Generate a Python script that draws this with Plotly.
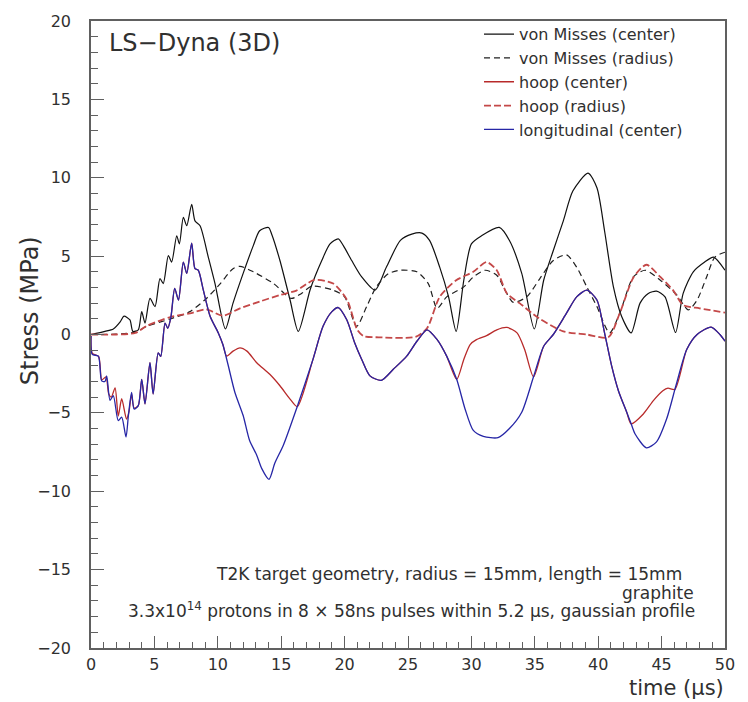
import plotly.graph_objects as go

# ---------------- data ----------------
vm_center_t = [0, 1.1, 1.76, 2.3, 2.6, 3.07, 3.3, 3.73, 4.0, 4.26, 4.65, 5.05, 5.44, 5.7, 6.1, 6.36, 6.76,
               6.97, 7.28, 7.55, 7.94, 8.2, 8.6, 9.25, 9.78, 10.6, 11.2, 12.0, 12.8, 13.3, 14.0, 14.25,
               14.9, 15.7, 16.35, 17.3, 18.2, 18.85, 19.5, 19.9, 20.56, 21.35, 22.4, 23.3, 24.4, 25.3,
               26.1, 26.7, 27.5, 28.2, 28.8, 29.4, 30.0, 30.8, 32.2, 33.0, 33.97, 34.96, 35.7, 36.46,
               37.25, 38.0, 39.2, 39.9, 40.5, 41.2, 41.85, 42.6, 43.3, 43.95, 44.6, 45.27, 46.1, 46.7,
               47.5, 48.4, 49.1, 50]
vm_center_v = [0, 0.2, 0.35, 0.8, 1.17, 0.93, 0.2, 0.3, 1.46, 0.73, 2.3, 1.78, 3.57, 3.25, 5.04, 4.62, 6.3,
               5.78, 7.47, 6.94, 8.31, 7.25, 6.94, 4.94, 3.25, 0.35, 2.0, 3.9, 5.67, 6.62, 6.83, 6.4,
               4.72, 2.2, 0.2, 2.9, 4.72, 5.78, 6.1, 5.67, 4.72, 3.67, 2.83, 4.3, 6.0, 6.4,
               6.47, 6.0, 4.3, 2.4, 0.2, 3.46, 5.78, 6.3, 6.83, 6.0, 3.9, 0.35, 3.46, 5.36,
               7.25, 9.15, 10.3, 9.36, 6.62, 3.04, 1.15, 0.1, 2.0, 2.62, 2.77, 2.4, 0.13, 2.62,
               4.0, 4.62, 4.94, 4.1]

vm_radius_t = [0, 2.0, 3.5, 4.4, 6.2, 7.8, 9.1, 10.2, 11.2, 11.75, 12.8, 14.4, 15.8, 16.6, 17.4, 19.1,
               20.0, 20.95, 21.74, 22.5, 23.45, 24.4, 25.7, 26.6, 27.3, 28.05, 29.4, 30.15, 31.1, 32.0,
               32.65, 33.3, 34.36, 35.4, 36.46, 37.5, 38.3, 39.1, 39.9, 40.9, 41.7, 42.77, 43.7, 44.9,
               46.2, 47.1, 47.8, 48.55, 49.2, 50]
vm_radius_v = [0, 0.02, 0.15, 0.52, 0.98, 1.46, 2.3, 3.25, 4.2, 4.35, 4.0, 3.25, 2.3, 2.62, 3.08, 2.83,
               2.4, 0.52, 1.78, 3.04, 3.88, 4.1, 4.0, 3.25, 1.67, 2.4, 3.04, 3.67, 4.1, 3.78,
               2.83, 2.05, 2.4, 3.57, 4.72, 5.08, 4.3, 3.04, 1.78, 0.1, 1.36, 3.67, 4.1, 3.46,
               2.52, 1.57, 2.2, 3.67, 4.94, 5.25]

hoop_center_t = [0, 0.1, 0.6, 0.85, 1.18, 1.4, 1.6, 1.9, 2.15, 2.42, 2.8, 3.0, 3.2, 3.4,
                 3.73, 4.0, 4.26, 4.65, 4.9, 5.3, 5.5, 5.84, 6.05, 6.3, 6.6, 6.9, 7.28, 7.55, 7.94,
                 8.2, 8.46, 8.86, 9.4, 10.04, 10.4,
                 10.7, 11.2, 11.75, 12.3, 13.07, 14.1, 14.9, 15.7, 16.27,
                 17.5, 18.3, 19.0, 19.5, 20.17, 20.8, 21.35, 22.0, 22.9, 23.84, 24.9, 25.7, 26.5,
                 27.3, 28.05, 28.84,
                 29.4, 29.9, 30.4, 31.2, 32.0, 32.8, 33.6, 34.2, 34.9,
                 35.7, 36.46, 37.5, 38.3, 39.1, 39.9, 40.5, 41.06, 41.6, 42.25, 42.6,
                 43.56, 44.35, 45.1, 45.5, 46.05,
                 46.98, 47.8, 48.9, 49.6, 50]
hoop_center_v = [-0.1, -1.2, -1.4, -2.9, -2.7, -3.8, -4.0, -3.4, -5.2, -4.1, -5.4, -4.9, -3.8, -4.7,
                 -4.54, -2.86, -4.43, -1.8, -3.8, -1.17, -1.4, 0.73, 0.4, 1.1, 2.94, 2.2, 4.62, 3.9, 5.82,
                 4.2, 4.1, 2.83, 1.15, 0.1, -0.64,
                 -1.38, -1.06, -0.85, -1.06, -1.8, -2.54, -3.27, -4.12, -4.6,
                 -1.6, 0.52, 1.46, 1.72, 0.94, -0.54, -1.59, -2.64, -2.92, -2.22, -1.38, -0.43, 0.3,
                 -0.33, -1.38, -2.86,
                 -1.59, -0.64, -0.33, -0.07, 0.3, 0.45, 0.1, -0.96, -2.7,
                 -0.75, 0.0, 1.36, 2.4, 2.83, 2.2, 0.1, -2.0, -3.6, -4.96, -5.7,
                 -5.07, -4.22, -3.59, -3.42, -3.5,
                 -0.96, 0.0, 0.47, 0.0, -0.43]

hoop_radius_t = [0, 2.0, 3.5, 4.4, 6.2, 7.8, 9.1, 10.4, 11.75, 13.3, 14.9, 16.2, 17.6, 19.1, 20.2, 21.0,
                 21.5, 22.7, 25.6, 26.5, 27.5, 28.8, 30.15, 31.2, 32.0, 32.8, 33.8, 35.3, 37.25, 39.1,
                 40.8, 41.7, 42.8, 43.8, 44.9, 45.9, 46.7, 48.0, 50]
hoop_radius_v = [0, 0.0, 0.1, 0.55, 1.1, 1.35, 1.6, 1.2, 1.67, 2.1, 2.52, 2.8, 3.48, 3.25, 2.2, 0.3,
                 -0.1, -0.18, -0.15, 0.4, 2.4, 3.46, 4.0, 4.62, 4.1, 2.62, 2.0, 1.05, 0.2, 0.0,
                 -0.18, 1.36, 3.67, 4.45, 3.67, 2.83, 1.88, 1.67, 1.4]

long_center_t = [0, 0.1, 0.58, 0.84, 1.1, 1.24, 1.5, 1.76, 2.15, 2.42, 2.76, 2.95, 3.2, 3.4, 3.73, 4.0,
                 4.26, 4.65, 4.9, 5.3, 5.5, 5.84, 6.05, 6.3, 6.6, 6.9, 7.28, 7.55, 7.94, 8.2, 8.46, 8.86,
                 9.4, 10.04, 10.4, 10.8, 11.35, 12.0, 12.5, 13.07, 13.46, 14.04, 14.5, 15.17, 16.2, 17.5,
                 18.3, 19.0, 19.5, 20.17, 20.8, 21.35, 22.0, 22.9, 23.84, 24.9, 25.7, 26.5, 27.3, 28.05,
                 28.84, 29.5, 30.15, 30.94, 32.1, 33.0, 33.97, 34.9, 35.7, 36.46, 37.5, 38.3, 39.1, 39.9,
                 40.5, 41.06, 41.6, 42.25, 42.6, 42.9, 43.8, 44.6, 45.4, 46.05, 46.2, 46.98, 47.8, 48.9,
                 49.6, 50]
long_center_v = [-0.1, -1.27, -1.38, -2.96, -3.0, -2.64, -4.2, -3.9, -5.5, -5.27, -6.54, -5.17, -3.7, -4.75,
                 -4.54, -2.86, -4.43, -1.8, -3.8, -1.17, -1.4, 0.73, 0.4, 1.1, 2.94, 2.2, 4.62, 3.9, 5.82,
                 4.2, 4.1, 2.83, 1.15, 0.1, -0.64, -1.9, -3.7, -5.17, -6.75, -7.7, -8.54, -9.24, -8.2,
                 -7.06, -4.75, -1.6, 0.52, 1.46, 1.72, 0.94, -0.54, -1.59, -2.64, -2.92, -2.22, -1.38,
                 -0.43, 0.3, -0.33, -1.38, -2.86, -4.75, -6.12, -6.5, -6.58, -6.0, -4.96, -2.7, -0.75,
                 0.0, 1.36, 2.4, 2.83, 2.2, 0.1, -2.0, -3.6, -4.96, -5.7, -6.33, -7.23, -6.85, -5.38,
                 -3.5, -3.06, -0.96, 0.0, 0.47, 0.0, -0.43]

series_names = ["von Misses (center)", "von Misses (radius)", "hoop (center)",
                "hoop (radius)", "longitudinal (center)"]

x_ticks = [0, 5, 10, 15, 20, 25, 30, 35, 40, 45, 50]
y_ticks = [-20, -15, -10, -5, 0, 5, 10, 15, 20]

# ---------------- figure ----------------
FONT = "DejaVu Sans"
AX = "#606060"
TXT = "#303030"
SM = 0.7

fig = go.Figure()
fig.add_trace(go.Scatter(x=vm_center_t, y=vm_center_v, mode="lines", name=series_names[0],
                         line=dict(color="#101010", width=1.2, shape="spline", smoothing=SM)))
fig.add_trace(go.Scatter(x=vm_radius_t, y=vm_radius_v, mode="lines", name=series_names[1],
                         line=dict(color="#202020", width=1.2, dash="6px,4px", shape="spline", smoothing=SM)))
fig.add_trace(go.Scatter(x=hoop_center_t, y=hoop_center_v, mode="lines", name=series_names[2],
                         line=dict(color="#b82a2a", width=1.3, shape="spline", smoothing=SM)))
fig.add_trace(go.Scatter(x=hoop_radius_t, y=hoop_radius_v, mode="lines", name=series_names[3],
                         line=dict(color="#c44848", width=1.8, dash="7px,3px", shape="spline", smoothing=SM)))
fig.add_trace(go.Scatter(x=long_center_t, y=long_center_v, mode="lines", name=series_names[4],
                         line=dict(color="#2626a6", width=1.3, shape="spline", smoothing=SM)))

fig.update_layout(
    width=748, height=702,
    margin=dict(l=91, r=23, t=15, b=54),
    paper_bgcolor="white", plot_bgcolor="white",
    font=dict(family=FONT, color=TXT, size=16),
    showlegend=True,
    legend=dict(x=0.612, y=1.006, xanchor="left", yanchor="top",
                bgcolor="rgba(0,0,0,0)", borderwidth=0,
                font=dict(family=FONT, size=16, color=TXT),
                tracegroupgap=0),
    xaxis=dict(range=[0, 50], tickvals=x_ticks, ticks="inside", ticklen=12, tickwidth=1.2,
               tickcolor=AX, showline=True, linecolor=AX, linewidth=1.6, mirror=True,
               showgrid=False, zeroline=False, ticklabelstandoff=1,
               tickfont=dict(family=FONT, size=16, color=TXT),
               minor=dict(dtick=1, ticks="inside", ticklen=6, tickcolor=AX, tickwidth=1, showgrid=False)),
    yaxis=dict(range=[-20, 20], tickvals=y_ticks, ticks="inside", ticklen=13, tickwidth=1.2,
               tickcolor=AX, showline=True, linecolor=AX, linewidth=1.6, mirror=True,
               showgrid=False, zeroline=False, ticklabelstandoff=15,
               tickfont=dict(family=FONT, size=16, color=TXT),
               minor=dict(dtick=1, ticks="inside", ticklen=7, tickcolor=AX, tickwidth=1, showgrid=False)),
)

annos = [
    dict(text="LS\u2212Dyna (3D)", x=107, y=37, size=24, xanchor="left"),
    dict(text="T2K target geometry, radius = 15mm, length = 15mm", x=684, y=573, size=17, xanchor="right"),
    dict(text="graphite", x=696, y=592, size=17, xanchor="right"),
    dict(text="3.3x10<sup>14</sup> protons in 8 \u00d7 58ns pulses within 5.2 \u00b5s, gaussian profile",
         x=697, y=610, size=17, xanchor="right"),
    dict(text="time (\u00b5s)", x=726, y=688, size=21, xanchor="right"),
]
for a in annos:
    fig.add_annotation(text=a["text"], xref="paper", yref="paper",
                       x=(a["x"] - 91) / 634, y=(648 - a["y"]) / 633,
                       xanchor=a["xanchor"], yanchor="middle", showarrow=False,
                       font=dict(family=FONT, size=a["size"], color=TXT))

fig.add_annotation(text="Stress (MPa)", xref="paper", yref="paper",
                   x=(30 - 91) / 634, y=(648 - 308) / 633, textangle=-90,
                   xanchor="center", yanchor="middle", showarrow=False,
                   font=dict(family=FONT, size=24, color=TXT))

fig.write_html("out.html")
